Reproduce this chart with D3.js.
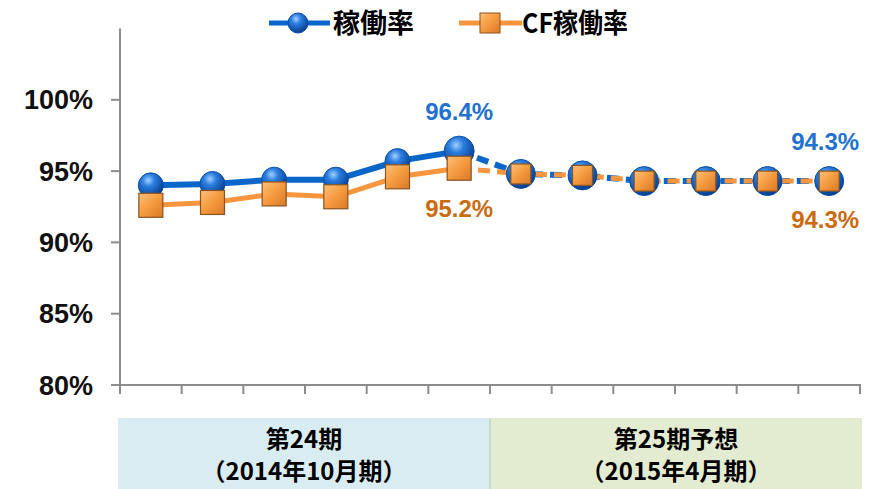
<!DOCTYPE html>
<meta charset="utf-8">
<style>
html, body {
  margin: 0;
  background: #fff;
}
text {
  font-family: "Liberation Sans", Arial, sans-serif;
  font-weight: bold;
}
.jp {
  font-family: "Noto Sans CJK JP", sans-serif;
}
</style>
<svg width="883" height="489"></svg>
<script src="https://cdn.jsdelivr.net/npm/d3@7"></script>
<script>
// data
const months = ['2014-05', '2014-06', '2014-07', '2014-08', '2014-09', '2014-10',
  '2014-11', '2014-12', '2015-01', '2015-02', '2015-03', '2015-04'];
const occupancy = [94.0, 94.1, 94.4, 94.4, 95.7, 96.4, 94.8, 94.7, 94.3, 94.3, 94.3, 94.3];
const cfOccupancy = [92.6, 92.8, 93.4, 93.2, 94.6, 95.2, 94.8, 94.7, 94.3, 94.3, 94.3, 94.3];
const yTicks = [80, 85, 90, 95, 100];
const actualCount = 6; // first 6 months actual, rest forecast
const periods = [
  { l1: '第24期', l2: '（2014年10月期）', from: 0, to: 6, color: '#d9ecf2' },
  { l1: '第25期予想', l2: '（2015年4月期）', from: 6, to: 12, color: '#e3ebd1' }
];
const seriesNames = ['稼働率', 'CF稼働率'];

const svg = d3.select('svg');
const blue = '#0a66c8', orange = '#f7963e', orangeText = '#cc6a10', blueText = '#1f72d0';

const x = d3.scaleBand().domain(months).range([120, 860]);
const y = d3.scaleLinear().domain([80, 105]).range([385, 28.5]);
const cx = d => x(d) + x.bandwidth() / 2;

// gradients
const defs = svg.append('defs');
const rg = defs.append('radialGradient').attr('id', 'ball')
  .attr('cx', '40%').attr('cy', '30%').attr('r', '70%');
rg.append('stop').attr('offset', '0%').attr('stop-color', '#9fd0ff');
rg.append('stop').attr('offset', '35%').attr('stop-color', '#2c7ee0');
rg.append('stop').attr('offset', '100%').attr('stop-color', '#063c8c');
const lg = defs.append('linearGradient').attr('id', 'box')
  .attr('x1', 0).attr('y1', 0).attr('x2', 1).attr('y2', 1);
lg.append('stop').attr('offset', '0%').attr('stop-color', '#ffc07a');
lg.append('stop').attr('offset', '50%').attr('stop-color', '#f49a3e');
lg.append('stop').attr('offset', '100%').attr('stop-color', '#d9782a');

// period boxes
const pg = svg.append('g');
periods.forEach(p => {
  const x0 = p.from === 0 ? 118 : x(months[p.from]);
  const x1 = p.to === months.length ? 862 : x(months[p.to]);
  pg.append('rect').attr('x', x0).attr('y', 418).attr('width', x1 - x0).attr('height', 71)
    .attr('fill', p.color);
  pg.append('text').attr('class', 'jp').attr('x', (x0 + x1) / 2).attr('y', 448)
    .attr('text-anchor', 'middle').attr('font-size', 24).text(p.l1);
  pg.append('text').attr('class', 'jp').attr('x', (x0 + x1) / 2).attr('y', 480)
    .attr('text-anchor', 'middle').attr('font-size', 24).text(p.l2);
});
pg.append('line').attr('x1', x(months[6])).attr('x2', x(months[6]))
  .attr('y1', 418).attr('y2', 489).attr('stroke', '#b8c8b8').attr('stroke-width', 1);

// axes
const ax = svg.append('g').attr('stroke', '#8c8c8c').attr('stroke-width', 2);
ax.append('line').attr('x1', 120).attr('x2', 120).attr('y1', y(105)).attr('y2', y(80) + 1);
ax.selectAll('.yt').data(yTicks).enter().append('line')
  .attr('x1', 111).attr('x2', 120).attr('y1', d => y(d)).attr('y2', d => y(d));
ax.append('line').attr('x1', 111).attr('x2', 861).attr('y1', y(80)).attr('y2', y(80));
ax.selectAll('.xt').data(d3.range(months.length + 1)).enter().append('line')
  .attr('x1', i => 120 + i * x.bandwidth()).attr('x2', i => 120 + i * x.bandwidth())
  .attr('y1', y(80)).attr('y2', y(80) + 9);

svg.append('g').selectAll('text').data(yTicks).enter().append('text')
  .attr('x', 93).attr('y', d => y(d) + 9.5).attr('text-anchor', 'end')
  .attr('font-size', 27).attr('fill', '#111')
  .text(d => d + '%');

// lines
function drawSeries(vals, color, width) {
  const solid = vals.map((v, i) => i < actualCount ? v : null);
  svg.append('path')
    .attr('d', d3.line().defined(d => d !== null).x((d, i) => cx(months[i])).y(d => y(d))(solid))
    .attr('fill', 'none').attr('stroke', color).attr('stroke-width', width)
    .attr('stroke-linejoin', 'round');
  const dashed = vals.slice(actualCount - 1);
  svg.append('path')
    .attr('d', d3.line().x((d, i) => cx(months[i + actualCount - 1])).y(d => y(d))(dashed))
    .attr('fill', 'none').attr('stroke', color).attr('stroke-width', width)
    .attr('stroke-dasharray', '12,7');
}
drawSeries(occupancy, blue, 6);
drawSeries(cfOccupancy, orange, 5);

// markers
svg.append('g').selectAll('circle').data(occupancy).enter().append('circle')
  .attr('cx', (d, i) => cx(months[i])).attr('cy', d => y(d))
  .attr('r', (d, i) => i === actualCount - 1 ? 15 : (i < actualCount ? 12.5 : 14.5))
  .attr('fill', 'url(#ball)').attr('stroke', '#0a4fa8').attr('stroke-width', 1);
svg.append('g').selectAll('rect').data(cfOccupancy).enter().append('rect')
  .each(function (d, i) {
    const s = i < actualCount ? 24 : 20;
    d3.select(this).attr('x', cx(months[i]) - s / 2).attr('y', y(d) - s / 2)
      .attr('width', s).attr('height', s);
  })
  .attr('fill', 'url(#box)').attr('stroke', '#8a5420').attr('stroke-width', 1.2);

// labels
const lbl = [
  { i: actualCount - 1, v: occupancy[actualCount - 1], dy: -31, c: blueText },
  { i: actualCount - 1, v: cfOccupancy[actualCount - 1], dy: 49, c: orangeText },
  { i: months.length - 1, v: occupancy[months.length - 1], dy: -31, c: blueText },
  { i: months.length - 1, v: cfOccupancy[months.length - 1], dy: 47, c: orangeText }
];
svg.append('g').selectAll('text').data(lbl).enter().append('text')
  .attr('x', d => cx(months[d.i]) - (d.i === months.length - 1 ? 4 : 0))
  .attr('y', d => y(d.v) + d.dy)
  .attr('text-anchor', 'middle').attr('font-size', 24).attr('fill', d => d.c)
  .text(d => d.v.toFixed(1) + '%');

// legend
const lgd = svg.append('g');
lgd.append('line').attr('x1', 269).attr('x2', 330).attr('y1', 23).attr('y2', 23)
  .attr('stroke', blue).attr('stroke-width', 5);
lgd.append('circle').attr('cx', 298).attr('cy', 23).attr('r', 10).attr('fill', 'url(#ball)')
  .attr('stroke', '#0a4fa8');
lgd.append('text').attr('class', 'jp').attr('x', 333).attr('y', 33).attr('font-size', 27)
  .text(seriesNames[0]);
lgd.append('line').attr('x1', 459).attr('x2', 522).attr('y1', 23).attr('y2', 23)
  .attr('stroke', orange).attr('stroke-width', 5);
lgd.append('rect').attr('x', 480).attr('y', 13).attr('width', 20).attr('height', 20)
  .attr('fill', 'url(#box)').attr('stroke', '#8a5420');
lgd.append('text').attr('class', 'jp').attr('x', 522).attr('y', 33).attr('font-size', 27)
  .attr('textLength', 106).attr('lengthAdjust', 'spacingAndGlyphs')
  .text(seriesNames[1]);
</script>
